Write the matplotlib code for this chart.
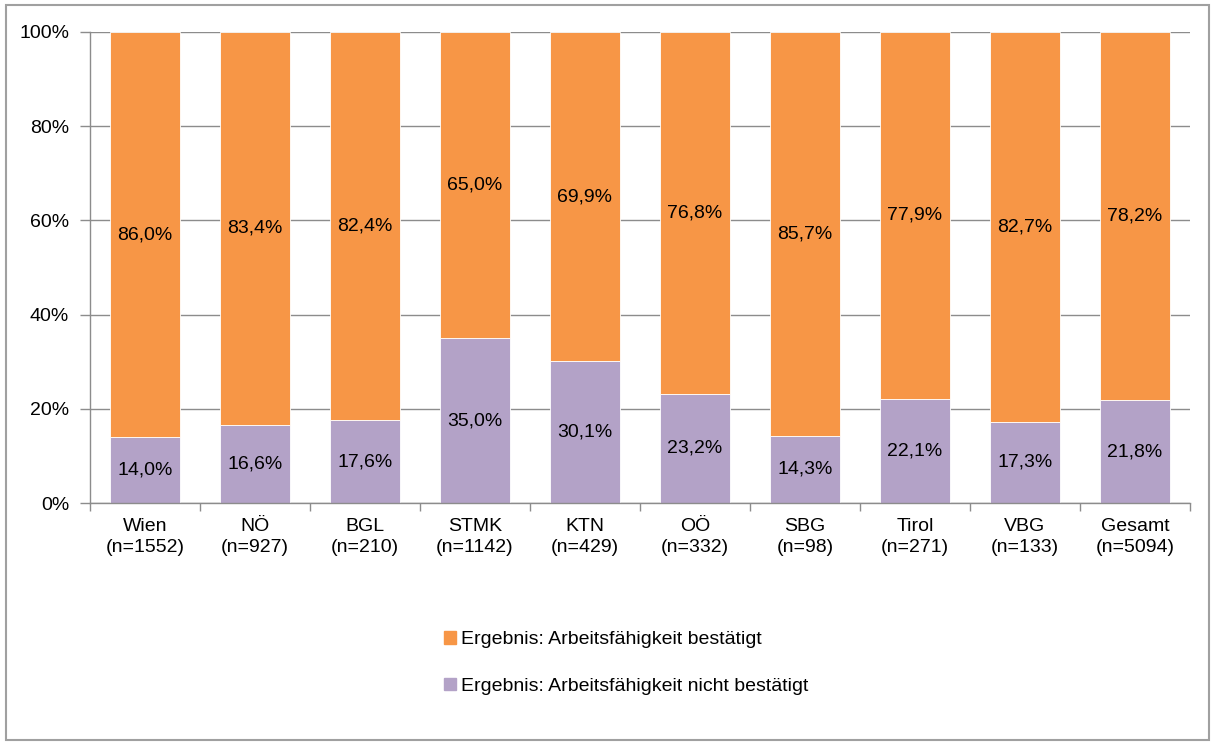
import matplotlib
matplotlib.use("Agg")
import matplotlib.pyplot as plt
from matplotlib.patches import Rectangle
import numpy as np

plt.rcParams['font.family'] = ['Liberation Sans', 'DejaVu Sans']

categories = ["Wien\n(n=1552)", "NÖ\n(n=927)", "BGL\n(n=210)", "STMK\n(n=1142)", "KTN\n(n=429)",
              "OÖ\n(n=332)", "SBG\n(n=98)", "Tirol\n(n=271)", "VBG\n(n=133)", "Gesamt\n(n=5094)"]
nicht_bestaetigt = [14.0, 16.6, 17.6, 35.0, 30.1, 23.2, 14.3, 22.1, 17.3, 21.8]
bestaetigt = [86.0, 83.4, 82.4, 65.0, 69.9, 76.8, 85.7, 77.9, 82.7, 78.2]
series_names = ["Ergebnis: Arbeitsfähigkeit bestätigt", "Ergebnis: Arbeitsfähigkeit nicht bestätigt"]
yticks = [0, 20, 40, 60, 80, 100]

orange = "#F79646"
purple = "#B3A2C7"
grid_c = "#8C8C8C"
FS = 14

fig = plt.figure(figsize=(12.13, 7.44), dpi=100)
W, H = 1213, 744
ax = fig.add_axes([90 / W, 1 - 503 / H, 1100 / W, (503 - 32) / H])

x = np.arange(len(categories))
bw = 0.64
ax.set_axisbelow(True)
ax.yaxis.grid(True, color=grid_c, linewidth=1)
b1 = ax.bar(x, nicht_bestaetigt, bw, color=purple, edgecolor="white", linewidth=0.6, zorder=2)
b2 = ax.bar(x, bestaetigt, bw, bottom=nicht_bestaetigt, color=orange, edgecolor="white", linewidth=0.6, zorder=2)

def fmt(v):
    return f"{v:.1f}%".replace(".", ",")

for i in range(len(categories)):
    ax.text(x[i], nicht_bestaetigt[i] / 2, fmt(nicht_bestaetigt[i]), ha="center", va="center", fontsize=FS, zorder=3)
    ax.text(x[i], nicht_bestaetigt[i] + bestaetigt[i] / 2, fmt(bestaetigt[i]), ha="center", va="center", fontsize=FS, zorder=3)

ax.set_xlim(-0.5, len(categories) - 0.5)
ax.set_ylim(0, 100)
ax.set_yticks(yticks)
ax.set_yticklabels([f"{t}%" for t in yticks], fontsize=FS)
ax.set_xticks(x)
ax.set_xticklabels(categories, fontsize=FS, linespacing=1.3)
ax.set_xticks(np.arange(-0.5, len(categories), 1), minor=True)
ax.tick_params(axis="x", which="major", length=0, pad=11)
ax.tick_params(axis="x", which="minor", length=6, color=grid_c, width=1)
ax.tick_params(axis="y", length=7, color=grid_c, width=1, pad=8)
for s in ["top", "right"]:
    ax.spines[s].set_visible(False)
for s in ["left", "bottom"]:
    ax.spines[s].set_color(grid_c)
    ax.spines[s].set_linewidth(1)

handles = [Rectangle((0, 0), 1, 1, color=orange), Rectangle((0, 0), 1, 1, color=purple)]
fig.legend(handles, series_names, loc="center", bbox_to_anchor=(626 / W, 1 - 663 / H),
           ncol=1, frameon=False, fontsize=FS, handlelength=0.6, handleheight=0.6,
           handletextpad=0.25, labelspacing=1.5)

fig.add_artist(Rectangle((6 / W, 4 / H), (1209 - 6) / W, (739 - 4) / H, transform=fig.transFigure,
                         fill=False, edgecolor="#A0A0A0", linewidth=1.5))

fig.savefig("out.png", dpi=100)
